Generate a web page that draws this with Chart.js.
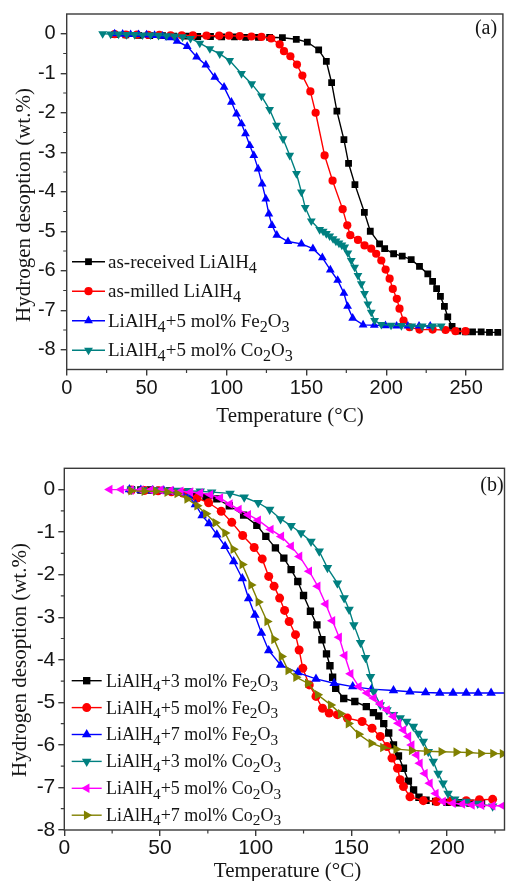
<!DOCTYPE html>
<html>
<head>
<meta charset="utf-8">
<title>Hydrogen desorption of LiAlH4 samples</title>
<script src="https://cdn.jsdelivr.net/npm/chart.js@4.4.0/dist/chart.umd.min.js"></script>
<style>
  html, body { margin: 0; padding: 0; background: #fff; overflow: hidden; }
  #wrapA { position: absolute; left: 0; top: 0; width: 508px; height: 440px; }
  #wrapB { position: absolute; left: 0; top: 440px; width: 510px; height: 441px; }
</style>
</head>
<body>
<div id="wrapA"><canvas id="chartA" width="508" height="440"></canvas></div>
<div id="wrapB"><canvas id="chartB" width="510" height="441"></canvas></div>
<script>
// Axis texts
const xTitle = "Temperature (°C)";
const yTitle = "Hydrogen desoption (wt.%)";

// Panel (a): ticks
const tempTicksA = [0, 50, 100, 150, 200, 250];
const h2TicksA = [0, -1, -2, -3, -4, -5, -6, -7, -8];

// Panel (a): series
const labelsA = ["as-received LiAlH4", "as-milled LiAlH4", "LiAlH4+5 mol% Fe2O3", "LiAlH4+5 mol% Co2O3"];

const receivedT = [30, 37, 45, 52, 60, 67, 75, 82, 90, 97, 105, 112, 120, 127, 135, 143.7, 150.6, 157.7, 162.5, 165.8,
  169.1, 173.5, 176.4, 180.4, 186.3, 190, 195.8, 199, 204.6, 210, 215.6, 220.8, 226, 229, 231.5,
  233.9, 236.4, 238.5, 241.2, 244.8, 249.6, 254, 259.4, 264.6, 269.8];
const receivedH = [-0.02, -0.03, -0.04, -0.05, -0.05, -0.06, -0.06, -0.07, -0.07, -0.08, -0.08, -0.09, -0.09, -0.09, -0.1, -0.14, -0.21, -0.41, -0.7, -1.24,
  -1.96, -2.68, -3.28, -3.82, -4.52, -5.0, -5.32, -5.44, -5.57, -5.63, -5.72, -5.89, -6.08, -6.27, -6.45,
  -6.65, -6.9, -7.17, -7.41, -7.53, -7.55, -7.55, -7.55, -7.56, -7.56];

const milledT = [30, 37, 44, 51, 58, 65, 72, 79, 87.5, 95.4, 101.6, 108.3, 115.6, 121.9, 128, 133.3, 136, 140, 144.1, 147.5,
  152.5, 155.8, 161.4, 166.4, 172.7, 175.6, 177.5, 182.3, 186.4, 190.6, 193.7, 196.9, 199.6, 202.1, 204.1,
  206.6, 208.3, 210.8, 214.6, 220.8, 229, 237.1, 243.3, 249.6];
const milledH = [-0.01, -0.02, -0.02, -0.03, -0.03, -0.04, -0.04, -0.04, -0.05, -0.05, -0.05, -0.06, -0.07, -0.08, -0.12, -0.27, -0.44, -0.57, -0.78, -1.06,
  -1.46, -2.0, -3.08, -3.72, -4.44, -4.85, -5.1, -5.22, -5.36, -5.44, -5.57, -5.74, -5.97, -6.2, -6.46,
  -6.71, -6.96, -7.26, -7.43, -7.49, -7.49, -7.5, -7.53, -7.53];

const fe5T = [30, 35, 40, 45, 50, 55, 60, 64, 69.1, 75.4, 81.3, 87.1, 92.7, 98.5, 103.1, 106.3, 109.4, 111.9, 114.6, 117.1,
  119.8, 122.3, 124.6, 126.5, 128.5, 131.5, 138.5, 146.9, 154.1, 160, 165, 169.6, 173.5, 175.8, 179,
  185.5, 192.5, 199.5, 206.5, 213.5, 220.5, 227.5];
const fe5H = [0, -0.01, -0.02, -0.02, -0.03, -0.04, -0.06, -0.1, -0.19, -0.32, -0.59, -0.79, -1.1, -1.35, -1.73, -2.03, -2.28, -2.53, -2.83, -3.08,
  -3.42, -3.8, -4.18, -4.56, -4.85, -5.1, -5.26, -5.32, -5.44, -5.67, -5.98, -6.24, -6.57, -6.9, -7.2,
  -7.37, -7.38, -7.39, -7.4, -7.4, -7.4, -7.4];

const co5T = [22.5, 27.5, 32.5, 37.5, 42.5, 47.5, 52.5, 57.5, 62.5, 67.5, 72.5, 77.5, 83.3, 89.6, 95.8, 102, 109.4, 115.8, 121.9, 127,
  131.3, 135.4, 139.6, 143.8, 146.9, 149.3, 153.1, 158.3, 160.5, 162.5, 164.6, 166.7, 168.5, 170.4, 172.2,
  174, 176, 178.1, 180.2, 182.3, 184.4, 186.4, 188.5, 190.6, 192.7, 196.9, 203, 209.5, 216, 222.5, 229, 234.4];
const co5H = [0, -0.01, -0.01, -0.02, -0.02, -0.03, -0.03, -0.04, -0.05, -0.06, -0.08, -0.12, -0.24, -0.38, -0.51, -0.68, -1.01, -1.27, -1.58, -1.92,
  -2.32, -2.66, -3.08, -3.54, -4.01, -4.4, -4.74, -4.96, -5.0, -5.06, -5.12, -5.19, -5.25, -5.3, -5.35,
  -5.4, -5.55, -5.74, -5.91, -6.12, -6.33, -6.58, -6.84, -7.05, -7.26, -7.36, -7.38, -7.39, -7.4, -7.4, -7.4, -7.4];

// Panel (b): ticks
const tempTicksB = [0, 50, 100, 150, 200];
const h2TicksB = [0, -1, -2, -3, -4, -5, -6, -7, -8];

// Panel (b): series
const labelsB = ["LiAlH4+3 mol% Fe2O3", "LiAlH4+5 mol% Fe2O3", "LiAlH4+7 mol% Fe2O3",
  "LiAlH4+3 mol% Co2O3", "LiAlH4+5 mol% Co2O3", "LiAlH4+7 mol% Co2O3"];

const fe3T = [35, 40, 45, 50, 55, 60, 64, 68.5, 74, 79.7, 86.2, 93.7, 100.6, 105.3, 110.3, 114.7, 118.5, 122, 125, 128.6,
  132, 134.6, 137, 138.8, 140.2, 141.8, 146, 151.8, 157.8, 161.5, 164.3, 166.9, 169.5, 172, 174.6,
  177.2, 179.8, 182.5, 185.3, 189, 194, 200, 206, 212, 218];
const fe3H = [0, -0.01, -0.01, -0.02, -0.03, -0.05, -0.08, -0.14, -0.18, -0.22, -0.38, -0.6, -0.84, -1.1, -1.37, -1.61, -1.88, -2.16, -2.49, -2.86,
  -3.18, -3.53, -3.86, -4.14, -4.41, -4.67, -4.91, -4.98, -5.1, -5.24, -5.32, -5.5, -5.72, -6.0, -6.26,
  -6.55, -6.85, -7.06, -7.23, -7.3, -7.33, -7.35, -7.36, -7.37, -7.38];

const fe5bT = [35, 42, 49, 56, 62, 69.4, 75.4, 82, 87.5, 93.2, 99.2, 103.4, 106.8, 109.6, 112.5, 115.1, 117.5, 120.8, 122.7, 124.6,
  128, 131.5, 134.9, 138.4, 142.7, 147.9, 155.6, 160.8, 165.1, 168.6, 171.2, 174.1, 175.5, 177.2, 180.6,
  187.6, 194.5, 202, 210, 216.9, 223.8];
const fe5bH = [-0.01, -0.02, -0.03, -0.05, -0.08, -0.2, -0.31, -0.51, -0.77, -1.08, -1.36, -1.63, -2.04, -2.27, -2.55, -2.84, -3.1, -3.41, -3.77, -4.2,
  -4.59, -4.86, -5.14, -5.25, -5.29, -5.37, -5.45, -5.61, -5.8, -6.04, -6.31, -6.55, -6.82, -6.98, -7.22,
  -7.31, -7.33, -7.32, -7.31, -7.29, -7.28];

// last value sits past the right edge: the curve runs flat out of the frame
const fe7T = [34, 40, 46, 52, 57, 61, 65, 68.5, 72, 75.6, 79.7, 84, 88.5, 93, 96.3, 99.6, 103, 106.8, 113, 122,
  131.5, 141, 150.7, 160.5, 172, 180.6, 188.8, 196.2, 203.1, 210, 216.2, 223, 233];
const fe7H = [0, -0.01, -0.02, -0.03, -0.05, -0.08, -0.16, -0.35, -0.61, -0.8, -1.06, -1.33, -1.69, -2.09, -2.56, -2.95, -3.37, -3.78, -4.12, -4.3,
  -4.45, -4.55, -4.63, -4.69, -4.72, -4.75, -4.77, -4.78, -4.78, -4.78, -4.78, -4.78, -4.78];

const co3T = [35, 41, 47, 53, 59, 65, 71, 77, 86.6, 94, 101.3, 107.3, 113, 118.5, 123.7, 128.9, 133.2, 137.5, 142.7, 146.2,
  148.8, 151.3, 154.8, 157.4, 160, 161.7, 165.1, 168.6, 172, 175.5, 178.9, 182.4, 185, 187.6, 190.2,
  192.8, 195.3, 197.9, 200.5, 204, 210, 216, 223.8];
const co3H = [0, -0.01, -0.01, -0.02, -0.02, -0.03, -0.04, -0.06, -0.09, -0.18, -0.31, -0.47, -0.69, -0.85, -1.02, -1.22, -1.45, -1.84, -2.2, -2.55,
  -2.82, -3.18, -3.6, -3.95, -4.4, -4.75, -5.06, -5.18, -5.29, -5.37, -5.45, -5.57, -5.73, -5.92, -6.16,
  -6.39, -6.67, -6.9, -7.14, -7.28, -7.33, -7.38, -7.44];

const co5bT = [23.7, 29.7, 34.9, 40, 45.2, 50.4, 55.6, 60.8, 65.9, 71.1, 76.3, 81.5, 86.5, 91.2, 96.1, 101.3, 107.9, 113.4, 118.5, 122.9,
  128, 132.4, 136.6, 140.1, 143.6, 146.5, 149.6, 153.9, 158.2, 161.7, 165.1, 168.6, 172, 174.6, 177.2,
  179.8, 181.5, 184.1, 185.8, 188.4, 191, 194.1, 197.9, 203.1, 208, 213, 218, 223.8, 229];
const co5bH = [0, 0, -0.01, -0.01, -0.01, -0.01, -0.02, -0.04, -0.06, -0.08, -0.12, -0.2, -0.34, -0.47, -0.59, -0.72, -0.94, -1.1, -1.33, -1.57,
  -1.92, -2.27, -2.69, -3.08, -3.47, -3.9, -4.33, -4.63, -4.78, -4.9, -5.04, -5.18, -5.33, -5.49, -5.65,
  -5.8, -6.0, -6.24, -6.43, -6.67, -6.9, -7.14, -7.33, -7.37, -7.39, -7.41, -7.42, -7.43, -7.43];

const co7T = [34.9, 41.8, 47.8, 53.8, 59, 64.2, 69.4, 74, 78.9, 84, 88.3, 93, 97.6, 101.4, 106, 109.6, 113.5, 117, 121.1,
  127.2, 132.4, 139.2, 144.4, 148.5, 153.8, 160.4, 166.5, 173.4, 181.5, 189.3, 197, 204.8, 211.2, 217.7, 224, 229];
const co7H = [-0.03, -0.04, -0.04, -0.06, -0.09, -0.22, -0.38, -0.57, -0.78, -1.02, -1.4, -1.76, -2.24, -2.64, -3.1, -3.52, -3.92, -4.25, -4.41,
  -4.55, -4.82, -5.06, -5.27, -5.5, -5.75, -5.96, -6.06, -6.1, -6.13, -6.15, -6.16, -6.17, -6.18, -6.2, -6.2, -6.21];

// Styles
const AXIS_COLOR = "#3a3a3a";
const TEXT_COLOR = "#151515";

const stylesA = [
  { color: "#000000", shape: "rect", rot: 0, r: 4.8 },
  { color: "#ff0000", shape: "circle", rot: 0, r: 4.1 },
  { color: "#0000ff", shape: "triangle", rot: 0, r: 5.1 },
  { color: "#008080", shape: "triangle", rot: 180, r: 5.1 }
];
const stylesB = [
  { color: "#000000", shape: "rect", rot: 0, r: 5.2 },
  { color: "#ff0000", shape: "circle", rot: 0, r: 4.5 },
  { color: "#0000ff", shape: "triangle", rot: 0, r: 5.5 },
  { color: "#008080", shape: "triangle", rot: 180, r: 5.5 },
  { color: "#ff00ff", shape: "triangle", rot: 270, r: 5.5 },
  { color: "#808000", shape: "triangle", rot: 90, r: 5.5 }
];

// Text with chemical subscripts (digit right after a letter)
function drawRich(ctx, text, x, y, size) {
  let cx = x;
  for (let i = 0; i < text.length; i++) {
    const ch = text[i];
    const sub = /[0-9]/.test(ch) && i > 0 && /[A-Za-z]/.test(text[i - 1]);
    const s = sub ? size * 0.85 : size;
    ctx.font = s + 'px "Liberation Serif"';
    ctx.fillText(ch, cx, sub ? y + size * 0.24 : y);
    cx += ctx.measureText(ch).width;
  }
}

function minorValues(ticks, min, max) {
  const sorted = ticks.slice().sort((p, q) => p - q);
  const step = sorted[1] - sorted[0];
  const out = [];
  for (let v = sorted[0] - step / 2; v < max; v += step) {
    if (v > min && v < max) out.push(v);
  }
  return out;
}

// Frame, minor ticks, legend, panel tag and axis titles
const decorPlugin = {
  id: "decor",
  afterDraw(chart, args, o) {
    const ctx = chart.ctx;
    const a = chart.chartArea;
    const xs = chart.scales.x, ys = chart.scales.y;
    ctx.save();

    ctx.strokeStyle = AXIS_COLOR;
    ctx.lineWidth = 1.4;
    ctx.strokeRect(a.left, a.top, a.right - a.left, a.bottom - a.top);

    ctx.lineWidth = 1.2;
    ctx.beginPath();
    minorValues(o.xTicks, xs.min, xs.max).forEach(v => {
      const px = xs.getPixelForValue(v);
      ctx.moveTo(px, a.bottom);
      ctx.lineTo(px, a.bottom + 3.5);
    });
    minorValues(o.yTicks, ys.min, ys.max).forEach(v => {
      const py = ys.getPixelForValue(v);
      ctx.moveTo(a.left, py);
      ctx.lineTo(a.left - 3.5, py);
    });
    ctx.stroke();

    // legend
    const L = o.legend;
    ctx.textAlign = "left";
    ctx.textBaseline = "alphabetic";
    chart.data.datasets.forEach((ds, i) => {
      const y = L.y0 + i * L.dy;
      ctx.strokeStyle = ds.borderColor;
      ctx.lineWidth = ds.borderWidth;
      ctx.beginPath();
      ctx.moveTo(L.x0, y);
      ctx.lineTo(L.x1, y);
      ctx.stroke();
      ctx.fillStyle = ds.pointBackgroundColor;
      Chart.helpers.drawPoint(ctx, {
        pointStyle: ds.pointStyle, rotation: ds.pointRotation,
        radius: ds.pointRadius, borderWidth: 0
      }, (L.x0 + L.x1) / 2, y);
      ctx.fillStyle = TEXT_COLOR;
      drawRich(ctx, ds.label, L.textX, y + L.size * 0.33, L.size);
    });

    // panel tag
    ctx.fillStyle = TEXT_COLOR;
    ctx.textAlign = "center";
    ctx.font = o.tag.size + 'px "Liberation Serif"';
    ctx.fillText(o.tag.text, o.tag.x, o.tag.y);

    // axis titles
    ctx.font = o.titleSize + 'px "Liberation Serif"';
    ctx.fillText(xTitle, o.xTitlePos.x, o.xTitlePos.y);
    ctx.translate(o.yTitlePos.x, o.yTitlePos.y);
    ctx.rotate(-Math.PI / 2);
    ctx.fillText(yTitle, 0, 0);

    ctx.restore();
  }
};

function buildChart(canvasId, p) {
  const datasets = p.series.map((s, i) => ({
    label: s.label,
    data: s.t.map((t, k) => ({ x: t, y: s.h[k] })),
    borderColor: s.style.color,
    backgroundColor: s.style.color,
    pointBackgroundColor: s.style.color,
    pointBorderColor: s.style.color,
    pointBorderWidth: 0,
    pointStyle: s.style.shape,
    pointRotation: s.style.rot,
    pointRadius: s.style.r,
    borderWidth: 1.4,
    tension: 0,
    order: p.series.length - i
  }));

  const grid = {
    drawOnChartArea: false, drawTicks: true, tickLength: 6,
    color: AXIS_COLOR, lineWidth: 1.4
  };

  return new Chart(document.getElementById(canvasId), {
    type: "line",
    data: { datasets },
    options: {
      responsive: false,
      animation: false,
      events: [],
      layout: { padding: { top: p.top, right: p.padRight, left: 0, bottom: 0 } },
      plugins: {
        legend: { display: false },
        tooltip: { enabled: false },
        decor: p.decor
      },
      scales: {
        x: {
          type: "linear", min: 0, max: p.xMax,
          afterBuildTicks: s => { s.ticks = p.xTicks.map(v => ({ value: v })); },
          afterFit: s => { s.height = p.xAxisH; s.paddingLeft = 0; s.paddingRight = 0; },
          ticks: {
            autoSkip: false, maxRotation: 0, padding: p.xPad, color: TEXT_COLOR,
            font: { family: "Liberation Sans", size: p.tickSize },
            callback: v => String(v)
          },
          grid: grid,
          border: { display: false }
        },
        y: {
          type: "linear", min: p.yMin, max: p.yMax,
          afterBuildTicks: s => { s.ticks = p.yTicks.map(v => ({ value: v })); },
          afterFit: s => { s.width = p.left; s.paddingTop = 0; s.paddingBottom = 0; },
          ticks: {
            autoSkip: false, padding: p.yPad, color: TEXT_COLOR,
            font: { family: "Liberation Sans", size: p.tickSize },
            callback: v => String(v)
          },
          grid: grid,
          border: { display: false }
        }
      }
    },
    plugins: [decorPlugin]
  });
}

buildChart("chartA", {
  series: [
    { label: labelsA[0], t: receivedT, h: receivedH, style: stylesA[0] },
    { label: labelsA[1], t: milledT, h: milledH, style: stylesA[1] },
    { label: labelsA[2], t: fe5T, h: fe5H, style: stylesA[2] },
    { label: labelsA[3], t: co5T, h: co5H, style: stylesA[3] }
  ],
  xTicks: tempTicksA, yTicks: h2TicksA,
  xMax: 273, yMin: -8.5, yMax: 0.5,
  top: 14, padRight: 4.5, left: 66.7, xAxisH: 70.5,
  tickSize: 20, xPad: 1, yPad: 5,
  decor: {
    xTicks: tempTicksA, yTicks: h2TicksA,
    legend: { x0: 72, x1: 105, textX: 108, y0: 261.7, dy: 29.5, size: 19 },
    tag: { text: "(a)", x: 486, y: 34, size: 20 },
    titleSize: 21,
    xTitlePos: { x: 290, y: 422 },
    yTitlePos: { x: 29.5, y: 205 }
  }
});

buildChart("chartB", {
  series: [
    { label: labelsB[0], t: fe3T, h: fe3H, style: stylesB[0] },
    { label: labelsB[1], t: fe5bT, h: fe5bH, style: stylesB[1] },
    { label: labelsB[2], t: fe7T, h: fe7H, style: stylesB[2] },
    { label: labelsB[3], t: co3T, h: co3H, style: stylesB[3] },
    { label: labelsB[4], t: co5bT, h: co5bH, style: stylesB[4] },
    { label: labelsB[5], t: co7T, h: co7H, style: stylesB[5] }
  ],
  xTicks: tempTicksB, yTicks: h2TicksB,
  xMax: 230, yMin: -8, yMax: 0.5,
  top: 28.3, padRight: 1.4, left: 64.3, xAxisH: 51,
  tickSize: 21, xPad: 0, yPad: 3,
  decor: {
    xTicks: tempTicksB, yTicks: h2TicksB,
    legend: { x0: 71.7, x1: 101.7, textX: 106, y0: 240.7, dy: 26.9, size: 18 },
    tag: { text: "(b)", x: 492, y: 51, size: 20 },
    titleSize: 21,
    xTitlePos: { x: 287.5, y: 437 },
    yTitlePos: { x: 26, y: 220 }
  }
});
</script>
</body>
</html>
